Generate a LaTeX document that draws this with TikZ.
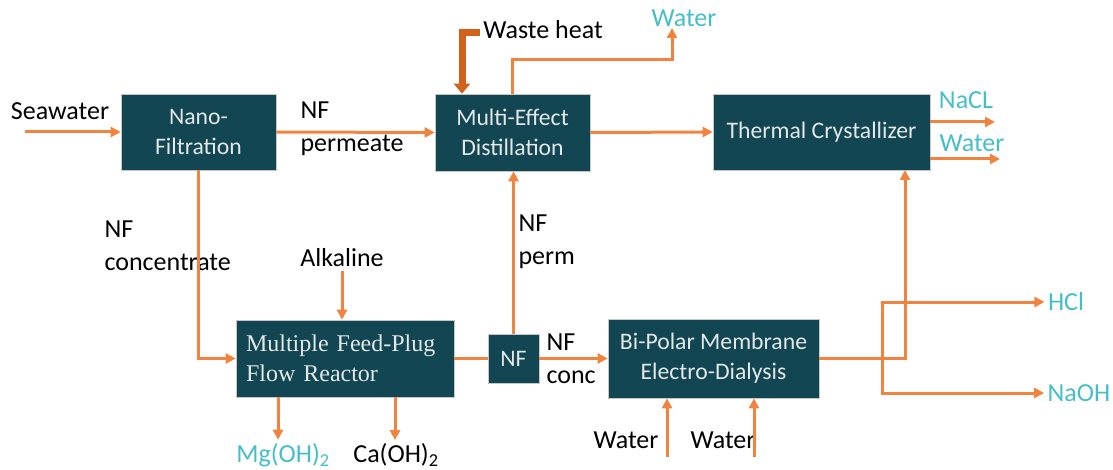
\documentclass[tikz,border=0pt]{standalone}
\usepackage{fontspec}
\setmainfont{Carlito}
\newfontfamily\timesfont{Liberation Serif}
\usepackage{xcolor}
\usepackage{tikz}
\usetikzlibrary{arrows.meta, positioning}

\definecolor{boxteal}{RGB}{17,70,82}
\definecolor{boxtext}{RGB}{228,232,232}
\definecolor{floworange}{RGB}{240,132,62}
\definecolor{heatorange}{RGB}{208,98,28}
\definecolor{prodteal}{RGB}{70,190,200}

\begin{document}
\begin{tikzpicture}[
    x=1pt, y=-1pt,
    every node/.style={font=\fontsize{26}{33}\selectfont},
    unitbox/.style={rectangle, fill=boxteal, draw=gray!45, line width=0.6pt,
        text=boxtext, align=center, inner sep=0pt,
        font=\fontsize{23.7}{30}\selectfont},
    label/.style={align=left},
    product/.style={text=prodteal},
    flow/.style={draw=floworange, line width=3pt,
        -{Triangle[length=10pt,width=10pt]}},
    pipe/.style={draw=floworange, line width=3pt},
    heatflow/.style={draw=heatorange, line width=7pt,
        -{Triangle[length=10pt,width=16pt]}}
]
\useasboundingbox (0,0) rectangle (1113,470);

% process units
\node[unitbox, minimum width=155pt, minimum height=76pt] (nf) at (198.5,132) {Nano-\\Filtration};
\node[unitbox, minimum width=155pt, minimum height=77pt] (med) at (512.5,132.5) {Multi-Effect\\Distillation};
\node[unitbox, minimum width=217pt, minimum height=76pt] (tc) at (821.5,132) {Thermal Crystallizer};
\node[unitbox, text width=198pt, inner xsep=10pt, minimum height=77pt, align=left,
    font=\timesfont\fontsize{24}{30}\selectfont] (pfr) at (345,358.5) {Multiple Feed-Plug\\Flow Reactor};
\node[unitbox, minimum width=51pt, minimum height=49pt] (nfs) at (513.5,358.5) {NF};
\node[unitbox, minimum width=211pt, minimum height=79pt] (bped) at (713.5,358.5) {Bi-Polar Membrane\\Electro-Dialysis};

% stream labels
\node (sea) at (60,111) {Seawater};
\node[label, anchor=west] (perm) at (297,129) {NF\\permeate};
\node[label, anchor=west] (conc) at (101,246) {NF\\concentrate};
\node (alk) at (342,258) {Alkaline};
\node[label, anchor=west] (nfperm) at (515,242) {NF\\perm};
\node[label, anchor=west] (nfconc) at (543,359) {NF\\conc};
\node[product] (mg) at (283,455) {Mg(OH)\textsubscript{2}};
\node (ca) at (396,455) {Ca(OH)\textsubscript{2}};
\node (w1) at (626,440) {Water};
\node (w2) at (723,440) {Water};
\node[product] (hcl) at (1066,302) {HCl};
\node[product] (naoh) at (1079,393) {NaOH};
\node[product] (nacl) at (966,100) {NaCL};
\node[product] (wtc) at (972,143) {Water};
\node[product] (wtop) at (684,18) {Water};
\node (heat) at (543,30) {Waste heat};

% free ends
\coordinate (seain) at (25,132);
\coordinate (w1in) at (667,457);
\coordinate (w2in) at (754,457);
\coordinate (split) at (882,358.5);
\coordinate (tcin) at (905,170);
\coordinate (naclend) at (995,122);
\coordinate (wtcend) at (1000,159);
\coordinate (wtip) at (672,28);

% streams
\draw[flow] (seain) -- (nf.west);
\draw[flow] (nf.east) -- (med.west);
\draw[flow] (nf.south) |- (pfr.west);
\draw[flow] (alk.south) -- (alk.south |- pfr.north);
\draw[pipe] (pfr.east) -- (nfs.west);
\draw[flow] (nfs.north) -- (nfs.north |- med.south);
\draw[flow] (nfs.east) -- (bped.west);
\draw[flow] ([xshift=-67pt]pfr.south) -- ([xshift=-67pt]pfr.south |- mg.north);
\draw[flow] ([xshift=50pt]pfr.south) -- ([xshift=50pt]pfr.south |- ca.north);
\draw[flow] (w1in) -- (w1in |- bped.south);
\draw[flow] (w2in) -- (w2in |- bped.south);
\draw[flow] (bped.east) -| (tcin);
\draw[flow] (split) |- (hcl.west);
\draw[flow] (split) |- (naoh.west);
\draw[flow] (med.east) -- (tc.west);
\draw[flow] (naclend -| tc.east) -- (naclend);
\draw[flow] (wtcend -| tc.east) -- (wtcend);
\draw[flow] (med.north) |- ([yshift=-32pt]wtip) -- (wtip);
\draw[heatflow] ([yshift=-3pt]heat.west) -| ([xshift=-50.5pt]med.north);
\end{tikzpicture}
\end{document}
